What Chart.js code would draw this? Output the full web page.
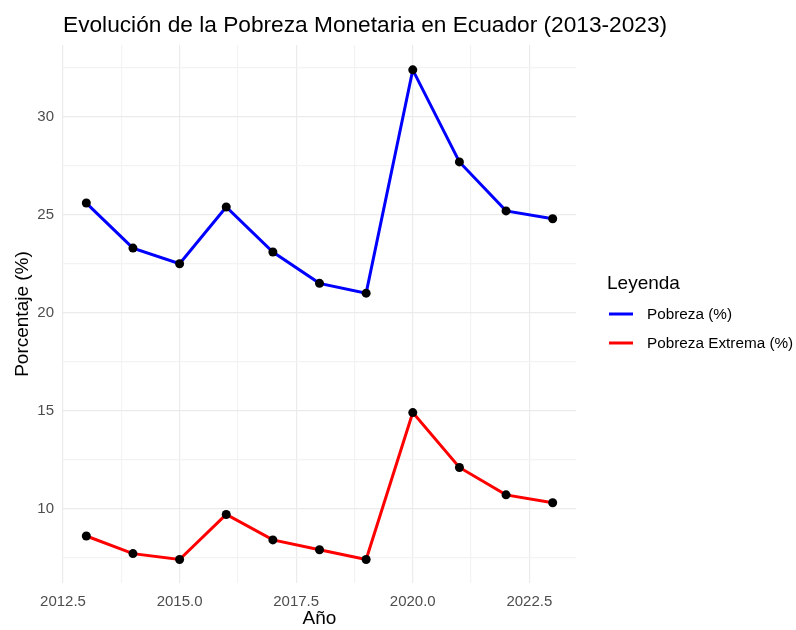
<!DOCTYPE html>
<html>
<head>
<meta charset="utf-8">
<script src="https://cdn.jsdelivr.net/npm/chart.js@4/dist/chart.umd.min.js"></script>
<style>
html,body{margin:0;padding:0;background:#fff;}
canvas{display:block;}
</style>
</head>
<body>
<canvas id="c" width="796" height="630"></canvas>
<script>
const years = [2013, 2014, 2015, 2016, 2017, 2018, 2019, 2020, 2021, 2022, 2023];
const pobreza = [25.6, 23.3, 22.5, 25.4, 23.1, 21.5, 21.0, 32.4, 27.7, 25.2, 24.8];
const pobrezaExtrema = [8.6, 7.7, 7.4, 9.7, 8.4, 7.9, 7.4, 14.9, 12.1, 10.7, 10.3];
const seriesNames = ['Pobreza (%)', 'Pobreza Extrema (%)'];
const seriesColors = ['#0000FF', '#FF0000'];
const titleText = 'Evolución de la Pobreza Monetaria en Ecuador (2013-2023)';
const xTitle = 'Año';
const yTitle = 'Porcentaje (%)';
const legendTitle = 'Leyenda';

const FONT = '"Liberation Sans", Arial, sans-serif';

function toPts(vals){ return years.map((y,i)=>({x:y, y:vals[i]})); }

const overlay = {
  id: 'overlay',
  afterDraw(chart){
    const ctx = chart.ctx;
    const ca = chart.chartArea;
    ctx.save();
    // title
    ctx.fillStyle = '#000';
    ctx.font = '22.7px ' + FONT;
    ctx.textAlign = 'left';
    ctx.textBaseline = 'middle';
    ctx.fillText(titleText, ca.left, 26);
    // x title
    ctx.font = '19px ' + FONT;
    ctx.textAlign = 'center';
    ctx.fillText(xTitle, (ca.left + ca.right) / 2, 619);
    // y title
    ctx.save();
    ctx.translate(23, (ca.top + ca.bottom) / 2);
    ctx.rotate(-Math.PI / 2);
    ctx.fillText(yTitle, 0, 0);
    ctx.restore();
    // legend
    ctx.textAlign = 'left';
    ctx.font = '19px ' + FONT;
    ctx.fillStyle = '#000';
    ctx.fillText(legendTitle, 607, 284);
    ctx.font = '15.3px ' + FONT;
    const rows = [314, 343];
    seriesNames.forEach((n, i) => {
      ctx.strokeStyle = seriesColors[i];
      ctx.lineWidth = 3;
      ctx.beginPath();
      ctx.moveTo(609, rows[i]);
      ctx.lineTo(633, rows[i]);
      ctx.stroke();
      ctx.fillStyle = '#000';
      ctx.fillText(n, 647, rows[i] + 1);
    });
    ctx.restore();
  }
};

const isMajorX = v => Math.abs(((v - 2012.5) / 2.5) - Math.round((v - 2012.5) / 2.5)) < 1e-6;
const isMajorY = v => Math.abs((v / 5) - Math.round(v / 5)) < 1e-6;

new Chart(document.getElementById('c'), {
  type: 'line',
  data: {
    datasets: [
      { label: seriesNames[0], data: toPts(pobreza), borderColor: seriesColors[0], borderWidth: 3,
        pointRadius: 4.5, pointBackgroundColor: '#000', pointBorderColor: '#000', pointBorderWidth: 0, tension: 0 },
      { label: seriesNames[1], data: toPts(pobrezaExtrema), borderColor: seriesColors[1], borderWidth: 3,
        pointRadius: 4.5, pointBackgroundColor: '#000', pointBorderColor: '#000', pointBorderWidth: 0, tension: 0 }
    ]
  },
  options: {
    responsive: false,
    animation: false,
    devicePixelRatio: 1,
    layout: { padding: { top: 45, right: 220, left: 0, bottom: 0 } },
    plugins: { legend: { display: false }, title: { display: false }, tooltip: { enabled: false } },
    scales: {
      x: {
        type: 'linear',
        min: 2012.5, max: 2023.5,
        border: { display: false },
        grid: {
          drawTicks: false,
          color: ctx => isMajorX(ctx.tick.value) ? '#ebebeb' : '#f3f3f3',
          lineWidth: 1.2
        },
        ticks: {
          stepSize: 1.25,
          includeBounds: false,
          autoSkip: false,
          maxRotation: 0,
          padding: 10,
          color: '#4d4d4d',
          font: { family: FONT, size: 15 },
          callback: v => isMajorX(v) ? v.toFixed(1) : ''
        },
        afterFit(s){ s.height = 47; }
      },
      y: {
        type: 'linear',
        min: 6.2, max: 33.67,
        border: { display: false },
        grid: {
          drawTicks: false,
          color: ctx => isMajorY(ctx.tick.value) ? '#ebebeb' : '#f3f3f3',
          lineWidth: 1.2
        },
        ticks: {
          stepSize: 2.5,
          includeBounds: false,
          autoSkip: false,
          padding: 9,
          color: '#4d4d4d',
          font: { family: FONT, size: 15 },
          callback: v => isMajorY(v) ? String(Math.round(v)) : ''
        },
        afterFit(s){ s.width = 63; }
      }
    }
  },
  plugins: [overlay]
});
</script>
</body>
</html>
